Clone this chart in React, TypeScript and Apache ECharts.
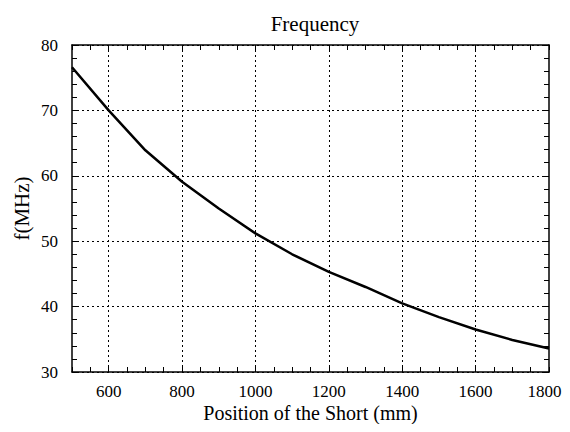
import React, { useEffect, useRef } from "react";
import * as echarts from "echarts";

const positions = [500, 600, 700, 800, 900, 1000, 1100, 1200, 1300, 1400, 1500, 1600, 1700, 1800];
const frequency = [76.6, 70.0, 63.9, 59.1, 55.0, 51.2, 48.0, 45.3, 43.0, 40.5, 38.4, 36.5, 34.9, 33.6];
const xGridValues = [600, 800, 1000, 1200, 1400, 1600];
const xLabelValues = [600, 800, 1000, 1200, 1400, 1600, 1800];

const FONT = "Liberation Serif";

export default function App() {
  const ref = useRef<HTMLDivElement>(null);
  useEffect(() => {
    if (!ref.current) return;
    const chart = echarts.init(ref.current, null, { renderer: "svg" });
    const tickCommon = {
      axisLine: { show: true, lineStyle: { color: "#000", width: 1.5 } },
      axisTick: { show: true, inside: true, length: 5, lineStyle: { color: "#000", width: 1 } },
      minorTick: { show: true, length: 5, lineStyle: { color: "#000", width: 1 } },
    };
    const xMax = positions[positions.length - 1];
    chart.setOption({
      animation: false,
      backgroundColor: "#fff",
      title: {
        text: "Frequency",
        left: 302,
        textAlign: "center",
        top: 0,
        textStyle: { fontFamily: FONT, fontSize: 21, fontWeight: "normal", color: "#000" },
      },
      grid: { left: 64, right: 13, top: 37, bottom: 52, show: false, outerBoundsMode: "none", containLabel: false },
      xAxis: [
        {
          type: "value",
          min: 500,
          max: 1800,
          interval: 100,
          ...tickCommon,
          minorTick: { ...tickCommon.minorTick, splitNumber: 2 },
          splitLine: { show: false },
          axisLabel: {
            fontFamily: FONT,
            fontSize: 17,
            color: "#000",
            margin: 11,
            formatter: (v: number) =>
              xLabelValues.includes(v) ? (v === xMax ? `{last|${v}}` : String(v)) : "",
            rich: {
              last: { fontFamily: FONT, fontSize: 17, color: "#000", padding: [0, 9, 0, 0] },
            },
          },
          name: "Position of the Short (mm)",
          nameLocation: "middle",
          nameGap: 31,
          nameMoveOverlap: false,
          nameTextStyle: { fontFamily: FONT, fontSize: 20, color: "#000" },
        },
        {
          type: "value",
          position: "top",
          min: 500,
          max: 1800,
          interval: 100,
          ...tickCommon,
          minorTick: { ...tickCommon.minorTick, splitNumber: 2 },
          splitLine: { show: false },
          axisLabel: { show: false },
        },
      ],
      yAxis: [
        {
          type: "value",
          min: 30,
          max: 80,
          interval: 10,
          ...tickCommon,
          minorTick: { ...tickCommon.minorTick, splitNumber: 5 },
          splitLine: { show: true, lineStyle: { color: "#000", width: 1, type: [2, 3] } },
          axisLabel: { fontFamily: FONT, fontSize: 17, color: "#000", margin: 14 },
          name: "f(MHz)",
          nameLocation: "middle",
          nameGap: 40,
          nameMoveOverlap: false,
          nameTextStyle: { fontFamily: FONT, fontSize: 21, color: "#000" },
        },
        {
          type: "value",
          position: "right",
          min: 30,
          max: 80,
          interval: 10,
          ...tickCommon,
          minorTick: { ...tickCommon.minorTick, splitNumber: 5 },
          splitLine: { show: false },
          axisLabel: { show: false },
        },
      ],
      series: [
        {
          type: "line",
          data: positions.map((p, i) => [p, frequency[i]]),
          showSymbol: false,
          smooth: false,
          lineStyle: { color: "#000", width: 2.5, join: "round" },
          markLine: {
            silent: true,
            symbol: "none",
            label: { show: false },
            lineStyle: { color: "#000", width: 1, type: [2, 3] },
            data: xGridValues.map((v) => ({ xAxis: v })),
          },
          z: 3,
        },
      ],
    });
    return () => chart.dispose();
  }, []);
  return <div ref={ref} style={{ width: 554, height: 416 }} />;
}
